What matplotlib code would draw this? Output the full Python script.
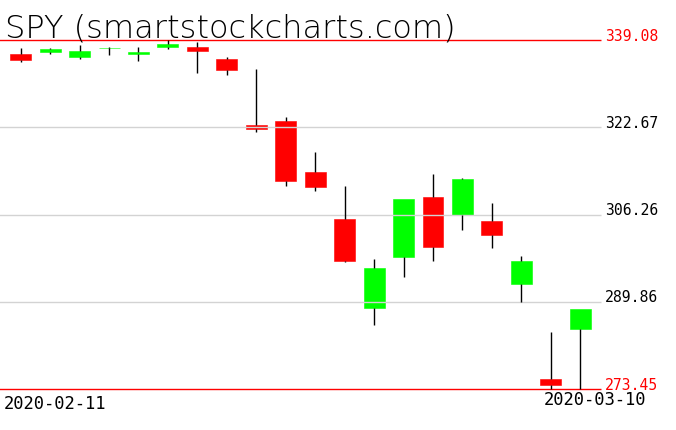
import matplotlib
matplotlib.use("Agg")
import matplotlib.pyplot as plt
import numpy as np

dates = ["2020-02-11", "2020-02-12", "2020-02-13", "2020-02-14", "2020-02-18",
         "2020-02-19", "2020-02-20", "2020-02-21", "2020-02-24", "2020-02-25",
         "2020-02-26", "2020-02-27", "2020-02-28", "2020-03-02", "2020-03-03",
         "2020-03-04", "2020-03-05", "2020-03-06", "2020-03-09", "2020-03-10"]
opens = [336.36, 336.83, 335.86, 337.51, 336.51, 337.79, 337.74, 335.47, 323.14, 323.94,
         314.18, 305.46, 288.70, 298.21, 309.50, 306.12, 304.98, 293.15, 275.30, 284.64]
highs = [337.54, 337.65, 338.12, 337.73, 337.67, 339.08, 338.64, 335.81, 333.56, 324.53,
         318.11, 311.56, 297.89, 309.16, 313.84, 313.10, 308.47, 298.50, 284.19, 288.52]
lows = [335.03, 336.43, 335.56, 336.20, 335.21, 337.48, 332.84, 332.58, 321.87, 311.59,
        310.70, 297.40, 285.54, 294.46, 297.57, 303.33, 300.01, 289.90, 273.45, 273.45]
closes = [335.26, 337.42, 337.06, 337.60, 336.73, 338.34, 336.95, 333.48, 322.42, 312.65,
          311.50, 297.51, 296.26, 309.09, 300.24, 312.86, 302.46, 297.46, 274.23, 288.42]


def draw_chart():
    o = np.array(opens)
    h = np.array(highs)
    l = np.array(lows)
    c = np.array(closes)
    n = len(o)
    x = np.arange(n)
    hi, lo = h.max(), l.min()

    fig = plt.figure(figsize=(6.76, 4.31), dpi=100)
    ax = fig.add_axes([0, 0, 1, 1])
    ax.set_axis_off()

    # map data onto the pixel layout of the original
    step = 29.45
    x0 = -20.7 / step
    ax.set_xlim(x0, x0 + 676 / step)
    scale = 349 / (hi - lo)
    ax.set_ylim(lo - 41 / scale, hi + 41 / scale)

    up = c >= o
    colors = np.where(up, "#00ff00", "#ff0000")
    top = np.maximum(o, c)
    bot = np.minimum(o, c)
    ax.bar(x, top - bot, bottom=bot, width=0.71,
           color=colors, edgecolor=colors, lw=0.4, zorder=1)
    # wicks above and below the body
    ax.vlines(x, top, h, color="black", lw=1.0, zorder=3)
    ax.vlines(x, l, bot, color="black", lw=1.0, zorder=3)

    # price levels
    xmax = x0 + 601 / step
    levels = np.linspace(lo, hi, 5)
    for i, lv in enumerate(levels):
        edge = i in (0, len(levels) - 1)
        col = "#ff0000" if edge else "#d3d3d3"
        ax.hlines(lv, x0 - 1, xmax, color=col, lw=1.0, zorder=2)
        ax.text(xmax + 4 / step, lv + 0.3 / scale, "%.2f" % lv, ha="left",
                va="baseline", fontsize=10.6, family="DejaVu Sans Mono",
                color="#ff0000" if edge else "black", zorder=4)

    ax.text(x0 + 5 / step, hi + 3 / scale, "SPY (smartstockcharts.com)",
            ha="left", va="baseline", fontsize=23, family="DejaVu Sans",
            fontweight="ultralight", color="black")

    fig.text(4 / 676, 1 - 395 / 431, dates[0], ha="left", va="top",
             fontsize=12.3, family="DejaVu Sans Mono")
    fig.text(646 / 676, 1 - 391.5 / 431, dates[-1], ha="right", va="top",
             fontsize=12.3, family="DejaVu Sans Mono")

    fig.savefig("out.png", dpi=100)


draw_chart()
